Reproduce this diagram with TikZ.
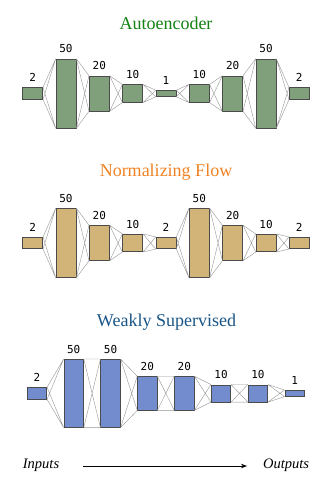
\documentclass[tikz,border=0pt]{standalone}
\usepackage{fontspec}
\setmainfont{Liberation Serif}
\setmonofont{DejaVu Sans Mono}
\usetikzlibrary{arrows.meta}

\definecolor{aegreen}{RGB}{20,130,20}
\definecolor{nforange}{RGB}{240,130,35}
\definecolor{wsblue}{RGB}{25,85,135}
\definecolor{aefill}{RGB}{127,160,122}
\definecolor{nffill}{RGB}{210,180,120}
\definecolor{wsfill}{RGB}{115,140,205}
\definecolor{edgegray}{RGB}{75,75,75}
\definecolor{wiregray}{RGB}{150,150,150}

\tikzset{
  layer/.style={draw=edgegray, line width=0.6pt, minimum width=20pt, inner sep=0pt},
  aelayer/.style={layer, fill=aefill},
  nflayer/.style={layer, fill=nffill},
  wslayer/.style={layer, fill=wsfill, minimum width=19.5pt},
  every label/.style={font=\fontsize{11}{12}\selectfont\ttfamily},
  label distance=2.2pt,
  wire/.style={wiregray, line width=0.4pt},
  heading/.style={font=\fontsize{18}{20}\selectfont, anchor=base, inner sep=0pt},
  ends/.style={font=\fontsize{14.5}{16}\selectfont\itshape, inner sep=0pt}
}

\begin{document}
\begin{tikzpicture}[x=1pt, y=-1pt]
    \useasboundingbox[fill=white] (0,0) rectangle (332,498);

    % Autoencoder
    \node[heading, text=aegreen] (aetitle) at (166,29.3) {Autoencoder};
    \node[aelayer, minimum height=11.5pt, label=above:2]  (ae1) at (32.7,93.5) {};
    \node[aelayer, minimum height=69pt,   label=above:50] (ae2) at (66,93.5) {};
    \node[aelayer, minimum height=35pt,   label=above:20] (ae3) at (99.3,93.5) {};
    \node[aelayer, minimum height=17.5pt, label=above:10] (ae4) at (132.7,93.5) {};
    \node[aelayer, minimum height=6pt,    label=above:1]  (ae5) at (166,93.5) {};
    \node[aelayer, minimum height=17.5pt, label=above:10] (ae6) at (199.3,93.5) {};
    \node[aelayer, minimum height=35pt,   label=above:20] (ae7) at (232.7,93.5) {};
    \node[aelayer, minimum height=69pt,   label=above:50] (ae8) at (266,93.5) {};
    \node[aelayer, minimum height=11.5pt, label=above:2]  (ae9) at (299.3,93.5) {};

    % Normalizing flow
    \node[heading, text=nforange] (nftitle) at (166,176.7) {Normalizing Flow};
    \node[nflayer, minimum height=11.5pt, label=above:2]  (nf1) at (32.7,243) {};
    \node[nflayer, minimum height=69pt,   label=above:50] (nf2) at (66,243) {};
    \node[nflayer, minimum height=35pt,   label=above:20] (nf3) at (99.3,243) {};
    \node[nflayer, minimum height=17.5pt, label=above:10] (nf4) at (132.7,243) {};
    \node[nflayer, minimum height=11.5pt, label=above:2]  (nf5) at (166,243) {};
    \node[nflayer, minimum height=69pt,   label=above:50] (nf6) at (199.3,243) {};
    \node[nflayer, minimum height=35pt,   label=above:20] (nf7) at (232.7,243) {};
    \node[nflayer, minimum height=17.5pt, label=above:10] (nf8) at (266,243) {};
    \node[nflayer, minimum height=11.5pt, label=above:2]  (nf9) at (299.3,243) {};

    % Weakly supervised
    \node[heading, text=wsblue] (wstitle) at (166.5,326) {Weakly Supervised};
    \node[wslayer, minimum height=11.5pt, label=above:2]  (ws1) at (37,393.3) {};
    \node[wslayer, minimum height=68pt,   label=above:50] (ws2) at (73.7,393.3) {};
    \node[wslayer, minimum height=68pt,   label=above:50] (ws3) at (110.5,393.3) {};
    \node[wslayer, minimum height=33.5pt, label=above:20] (ws4) at (147.3,393.3) {};
    \node[wslayer, minimum height=33.5pt, label=above:20] (ws5) at (184.3,393.3) {};
    \node[wslayer, minimum height=17pt,   label=above:10] (ws6) at (221,393.3) {};
    \node[wslayer, minimum height=17pt,   label=above:10] (ws7) at (257.9,393.3) {};
    \node[wslayer, minimum height=6pt,    label=above:1]  (ws8) at (294.6,393.3) {};

    % dense connections between neighbouring layers
    \foreach \a/\b in {ae1/ae2,ae2/ae3,ae3/ae4,ae4/ae5,ae5/ae6,ae6/ae7,ae7/ae8,ae8/ae9,
                       nf1/nf2,nf2/nf3,nf3/nf4,nf4/nf5,nf5/nf6,nf6/nf7,nf7/nf8,nf8/nf9,
                       ws1/ws2,ws2/ws3,ws3/ws4,ws4/ws5,ws5/ws6,ws6/ws7,ws7/ws8}
        \draw[wire] (\a.north east) -- (\b.north west)
                    (\a.north east) -- (\b.south west)
                    (\a.south east) -- (\b.north west)
                    (\a.south east) -- (\b.south west);

    % direction
    \node[ends, anchor=base west] (inputs) at (22.7,468.3) {Inputs};
    \node[ends, anchor=base east] (outputs) at (309.3,468.3) {Outputs};
    \draw[-{Stealth[length=6pt, width=4.5pt]}, line width=0.7pt] ([xshift=24pt]inputs.mid east) -- ([xshift=-16pt]outputs.mid west);
\end{tikzpicture}
\end{document}
